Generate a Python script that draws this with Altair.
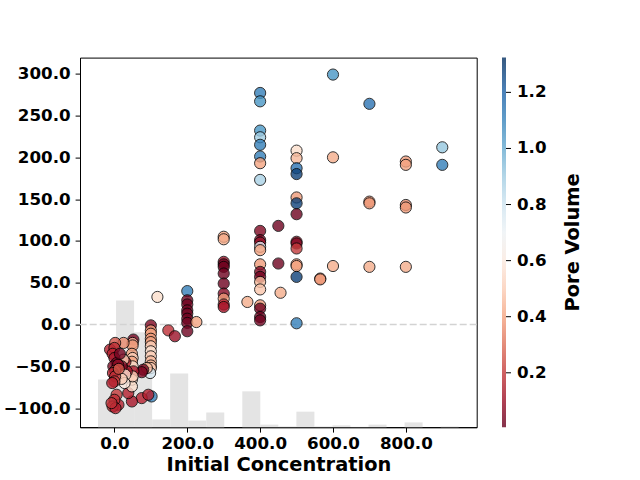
import altair as alt
import pandas as pd

# ---- scatter data: initial concentration, removal value, pore volume ----
conc = [
    900, 900,
    800, 800, 800, 800, 800,
    700, 700, 700, 700,
    600, 600, 600,
    565, 565,
    500, 500, 500, 500, 500, 500, 500, 500, 500, 500, 500, 500, 500, 500,
    450, 450, 456, 365,
    400, 400, 400, 400, 400, 400, 400, 400, 400, 400, 400, 400, 400, 400,
    400, 400, 400, 400, 400, 400, 400, 400,
    300, 300, 300, 300, 300, 300, 300, 300, 300, 300, 300,
    200, 200, 200, 200, 200, 200, 200, 200, 225,
    148, 166, 118,
    100, 100, 100, 100, 100, 100, 100, 100, 100, 100, 100, 98, 102,
    89, 79, 75, 75, 93, 48, 38,
    52, 50, 50, 48, 50, 48, 50, 52, 48, 48, 50,
    25, 30, 34, 25, 20, 30, 28, 20,
    2, -12, 0, -5, 0, 6, -3, 10, 2, -4, 2, 0, -6, 6, 11, 0, -5, 3, -8, 15, 12,
]
removal = [
    212, 191,
    195, 191, 143, 140, 69,
    264, 147, 145, 69,
    299, 200, 70,
    55, 54,
    208, 199, 187, 180, 152, 145, 132, 99, 97, 91, 72, 70, 57, 1.5,
    118, 73, 38, 27,
    277, 267, 232, 224, 215, 201, 193, 173, 112, 101, 98, 93, 89, 72,
    63, 57, 51, 42, 23, 19, 9, 5,
    105, 102, 75, 72, 69, 61, 49, 37, 31, 24, 21,
    40, 29, 24, 17, 13, 7, 2, -8, 3,
    -7, -14, 33,
    -1, -7, -11, -17, -21, -26, -32, -38, -44, -49, -52, -58, -86,
    -52, -54, -57, -88, -84, -92, -82,
    -18, -22, -25, -35, -40, -44.5, -50, -56, -66, -74, -62,
    -22, -45, -56, -42, -50, -60, -70, -65,
    -22, -30, -28, -35, -40, -46, -50, -48, -55, -58, -62, -68, -70, -84, -96, -90, -98, -100, -94, -35, -53,
]
pore_volume = [
    0.92, 1.12,
    0.38, 0.40, 0.36, 0.38, 0.42,
    1.15, 0.36, 0.38, 0.42,
    1.05, 0.42, 0.42,
    0.36, 0.38,
    0.55, 0.45, 1.15, 1.28, 0.38, 1.28, 0.02, 0.10, 0.05, 0.20, 0.37, 0.40, 1.28, 1.12,
    0.02, 0.02, 0.42, 0.42,
    1.12, 1.05, 1.05, 0.90, 1.12, 1.12, 0.40, 0.88, 0.05, 0.03, 0.10, 0.75, 0.40, 0.38,
    0.05, 0.03, 0.45, 0.48, 0.38, 0.02, 0.02, 0.02,
    0.40, 0.42, 0.10, 0.02, 0.02, 0.02, 0.02, 0.06, 0.38, 0.15, 0.12,
    1.12, 0.02, 0.02, 0.02, 0.02, 0.02, 0.02, 0.02, 0.40,
    0.18, 0.10, 0.55,
    0.05, 0.38, 0.40, 0.38, 0.40, 0.50, 0.55, 0.50, 0.45, 0.45, 0.50, 0.78, 1.12,
    0.45, 0.03, 0.05, 0.15, 0.15, 0.12, 0.15,
    0.03, 0.45, 0.38, 0.40, 0.50, 0.40, 0.55, 0.12, 0.55, 0.55, 0.50,
    0.35, 0.15, 0.12, 0.50, 0.05, 0.55, 0.60, 0.50,
    0.25, 0.15, 0.18, 0.15, 0.12, 0.03, 0.05, 0.08, 0.20, 0.15, 0.18, 0.20, 0.15, 0.20, 0.15, 0.18, 0.20, 0.15, 0.18, 0.03, 0.25,
]

# ---- background histogram of initial concentration (bin edges, relative heights %) ----
hist_left = [-45, 4.5, 54, 103.5, 153, 202.5, 252, 301.5, 351, 400.5,
             450, 499.5, 549, 598.5, 648, 697.5, 747, 796.5, 846, 895.5]
hist_right = [4.5, 54, 103.5, 153, 202.5, 252, 301.5, 351, 400.5, 450,
              499.5, 549, 598.5, 648, 697.5, 747, 796.5, 846, 895.5, 945]
hist_height = [12.9, 34.3, 25.7, 2.1, 14.5, 1.8, 4.0, 0, 9.7, 0.7,
               0.2, 4.2, 0.2, 0.5, 0.1, 0.7, 0, 1.3, 0, 0.2]

x_ticks = [0, 200, 400, 600, 800]
y_ticks = [-100, -50, 0, 50, 100, 150, 200, 250, 300]
cbar_ticks = [0.2, 0.4, 0.6, 0.8, 1.0, 1.2]
cbar_title = ["Pore Volume"]

# matplotlib RdBu colour stops, spread over the colour-bar range
rdbu = ["#67001f", "#b2182b", "#d6604d", "#f4a582", "#fddbc7", "#f7f7f7",
        "#d1e5f0", "#92c5de", "#4393c3", "#2166ac", "#053061"]
pv_min, pv_max = 0.006, 1.324
pv_stops = [pv_min + (pv_max - pv_min) * i / 10 for i in range(11)]

df = pd.DataFrame({"conc": conc, "removal": removal, "pv": pore_volume})
hdf = pd.DataFrame({"x0": hist_left, "x1": hist_right, "h": hist_height})
zdf = pd.DataFrame({"y": [0]})
tdf = pd.DataFrame({"t": cbar_title})
cdf = pd.DataFrame({"v": cbar_ticks})

FONT = "DejaVu Sans"
xscale = alt.Scale(domain=[-94.5, 994.5], nice=False, zero=False)
yscale = alt.Scale(domain=[-122.8, 319.3], nice=False, zero=False)

x_axis = alt.Axis(
    values=x_ticks, format=".1f", title="Initial Concentration", grid=False,
    labelFont=FONT, labelFontWeight="bold", labelFontSize=16.7, labelColor="black",
    titleFont=FONT, titleFontWeight="bold", titleFontSize=19.4, titleColor="black",
    titlePadding=4, tickSize=4.9, tickColor="black", labelPadding=3,
    domainColor="black", labelFlush=False,
)
y_axis = alt.Axis(
    values=y_ticks, format=".1f", title=None, grid=False,
    labelFont=FONT, labelFontWeight="bold", labelFontSize=16.7, labelColor="black",
    tickSize=4.9, tickColor="black", labelPadding=5, domainColor="black",
    labelFlush=False,
)

hist = alt.Chart(hdf).mark_rect(color="#e4e4e4").encode(
    x=alt.X("x0:Q", scale=xscale, axis=x_axis),
    x2="x1:Q",
    y=alt.Y("h:Q", scale=alt.Scale(domain=[0, 100], nice=False), axis=None),
    y2=alt.datum(0),
)

zero_line = alt.Chart(zdf).mark_rule(
    color="#d3d3d3", strokeWidth=1.5, strokeDash=[7, 3]
).encode(y=alt.Y("y:Q", scale=yscale, axis=None))

points = alt.Chart(df).mark_circle(
    size=125, stroke="black", strokeWidth=1, opacity=0.8
).encode(
    x=alt.X("conc:Q", scale=xscale, axis=x_axis),
    y=alt.Y("removal:Q", scale=yscale, axis=y_axis),
    color=alt.Color(
        "pv:Q",
        scale=alt.Scale(domain=pv_stops, range=rdbu, interpolate="rgb",
                        nice=False, zero=False),
        legend=alt.Legend(
            title=None, orient="none", legendX=422, legendY=0,
            direction="vertical", values=cbar_ticks, format=".1f",
            gradientLength=369.6, gradientThickness=4, gradientOpacity=0.8,
            gradientStrokeWidth=0,
            labelFont=FONT, labelFontWeight="bold", labelFontSize=16.7,
            labelColor="black", labelOffset=11, labelOverlap=False,
            padding=0,
        ),
    ),
)

# small tick marks beside the colour bar
cbar_tick_marks = alt.Chart(cdf).mark_rule(color="black", strokeWidth=1).encode(
    y=alt.Y("v:Q", scale=alt.Scale(domain=[pv_min, pv_max], nice=False, zero=False), axis=None),
    x=alt.value(426), x2=alt.value(431),
)

cbar_label = alt.Chart(tdf).mark_text(
    angle=270, font=FONT, fontWeight="bold", fontSize=19.4, color="black",
    align="center", baseline="middle",
).encode(text="t:N", x=alt.value(493), y=alt.value(184.8))

chart = alt.layer(hist, zero_line, points, cbar_tick_marks, cbar_label).resolve_scale(
    y="independent"
).properties(
    width=396.7, height=369.6,
    padding={"left": 80, "top": 57.6, "right": 163.3, "bottom": 52.8},
    autosize=alt.AutoSizeParams(type="none"),
).configure(background="white").configure_view(stroke="black", strokeWidth=1)

chart.save("out.html", embed_options={"renderer": "svg", "actions": False})
